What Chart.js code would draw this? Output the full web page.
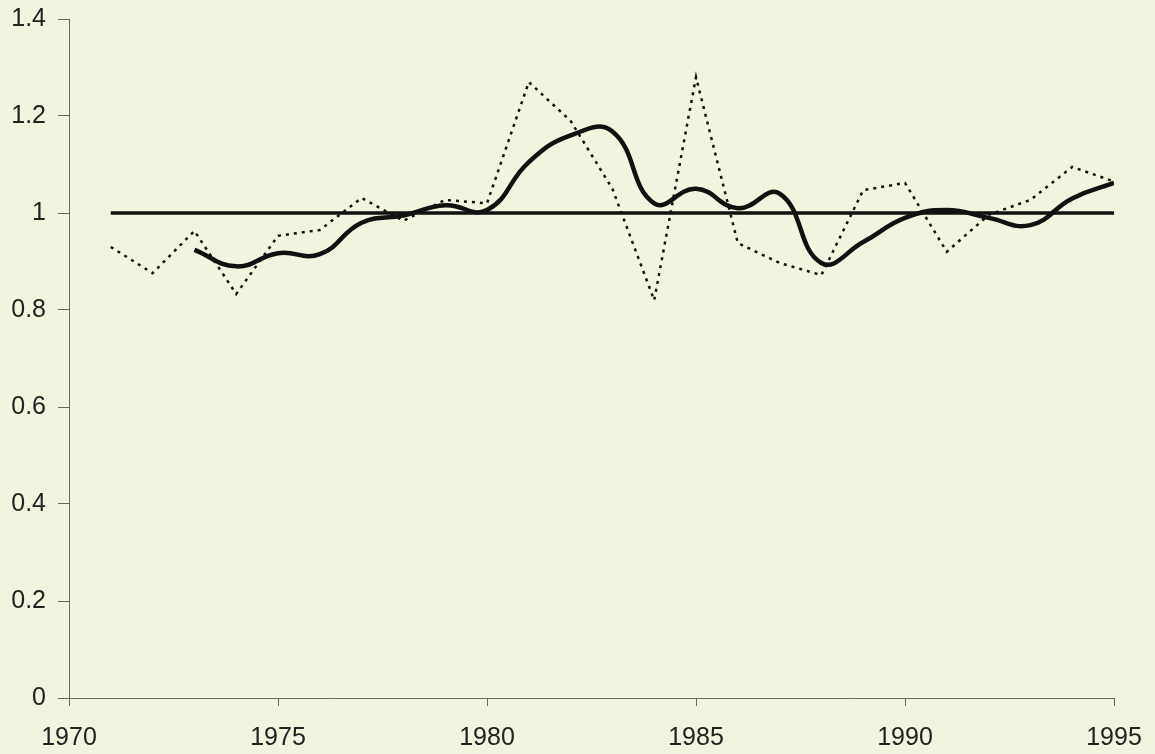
<!DOCTYPE html>
<html>
<head>
<meta charset="utf-8">
<script src="https://cdn.jsdelivr.net/npm/chart.js@4"></script>
<style>
  html, body { margin: 0; padding: 0; background: #f2f4df; }
  #wrap { width: 1155px; height: 754px; }
</style>
</head>
<body>
<div id="wrap"><canvas id="ratioChart" width="1155" height="754"></canvas></div>
<script>
const years = [1971, 1972, 1973, 1974, 1975, 1976, 1977, 1978, 1979, 1980, 1981, 1982, 1983,
  1984, 1985, 1986, 1987, 1988, 1989, 1990, 1991, 1992, 1993, 1994, 1995];

// yearly ratio (dotted)
const yearly = [0.93, 0.876, 0.963, 0.833, 0.953, 0.965, 1.031, 0.984, 1.027, 1.02, 1.27, 1.19, 1.05,
  0.82, 1.28, 0.938, 0.897, 0.872, 1.047, 1.062, 0.92, 0.996, 1.027, 1.095, 1.065];

// smoothed ratio (thick), starts 1973
const smoothed = [null, null, 0.924, 0.89, 0.917, 0.915, 0.98, 0.995, 1.016, 1.006, 1.105, 1.16, 1.168,
  1.02, 1.05, 1.01, 1.04, 0.897, 0.94, 0.99, 1.006, 0.99, 0.975, 1.03, 1.062];

const baseline = years.map(() => 1);

const xTicks = [1970, 1975, 1980, 1985, 1990, 1995];
const yTicks = [0, 0.2, 0.4, 0.6, 0.8, 1, 1.2, 1.4];

const toPoints = (vals) => years.map((yr, i) => ({ x: yr, y: vals[i] }));

// keep label overflow from pushing the plot area around
const noOverflow = (scale) => {
  scale.paddingTop = 0;
  scale.paddingBottom = 0;
  scale.paddingLeft = 0;
  scale.paddingRight = 0;
};

const ctx = document.getElementById('ratioChart');

new Chart(ctx, {
  type: 'line',
  data: {
    datasets: [
      {
        label: 'baseline',
        data: toPoints(baseline),
        borderColor: '#111',
        borderWidth: 3.5,
        pointRadius: 0,
        tension: 0,
      },
      {
        label: 'yearly',
        data: toPoints(yearly),
        borderColor: '#111',
        borderWidth: 2.5,
        borderDash: [3, 5],
        pointRadius: 0,
        tension: 0,
      },
      {
        label: 'smoothed',
        data: toPoints(smoothed),
        borderColor: '#111',
        borderWidth: 4.5,
        pointRadius: 0,
        tension: 0.45,
        spanGaps: false,
      },
    ],
  },
  options: {
    responsive: false,
    animation: false,
    layout: { padding: { top: 19, right: 41, left: 0, bottom: 0 } },
    plugins: {
      legend: { display: false },
      tooltip: { enabled: false },
    },
    scales: {
      x: {
        type: 'linear',
        min: 1970,
        max: 1995,
        afterBuildTicks: (scale) => {
          scale.ticks = xTicks.map(v => ({ value: v }));
        },
        afterFit: (scale) => { scale.height = 56; noOverflow(scale); },
        grid: { drawOnChartArea: false, drawTicks: true, tickLength: 8, color: '#666' },
        border: { display: true, color: '#666', width: 1 },
        ticks: {
          color: '#222',
          font: { family: 'Liberation Sans', size: 25 },
          padding: 17,
          maxRotation: 0,
          callback: (v) => String(v),
        },
      },
      y: {
        min: 0,
        max: 1.4,
        afterBuildTicks: (scale) => {
          scale.ticks = yTicks.map(v => ({ value: v }));
        },
        afterFit: (scale) => { scale.width = 69; noOverflow(scale); },
        grid: { drawOnChartArea: false, drawTicks: true, tickLength: 11, color: '#666' },
        border: { display: true, color: '#666', width: 1 },
        ticks: {
          color: '#222',
          font: { family: 'Liberation Sans', size: 25 },
          padding: 12,
          callback: (v) => String(Math.round(v * 10) / 10),
        },
      },
    },
  },
});
</script>
</body>
</html>
